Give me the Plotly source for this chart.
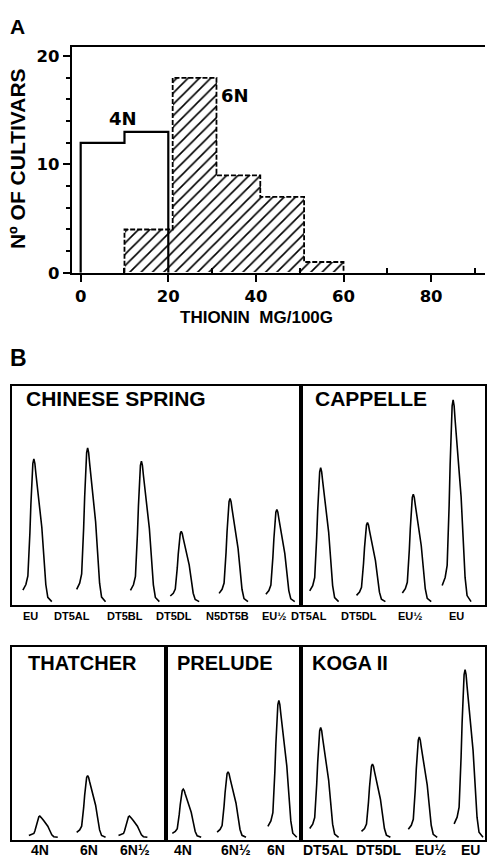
import plotly.graph_objects as go

W, H = 487, 867

# ---------------- Panel A data ----------------
n4_edges = [0, 10, 20]
n4_counts = [12, 13]
n6_edges = [10, 21, 31, 41, 51, 60]
n6_counts = [4, 18, 9, 7, 1]
a_xticks = [0, 20, 40, 60, 80]
a_xminor = [10, 30, 50, 70, 90]
a_yticks = [0, 10, 20]

# ---------------- Panel B data (elution position, peak height % of box) ----------------
cs_pos = [34, 88, 142, 182, 231, 278]
cs_h = [65, 70, 64, 32, 47, 42]
cs_labels = ["EU", "DT5AL", "DT5BL", "DT5DL", "N5DT5B", "EU½"]
cs_label_x = [31, 72, 126, 175, 228, 275]

cap_pos = [322, 369, 415, 455]
cap_h = [61, 36, 49, 92]
cap_labels = ["DT5AL", "DT5DL", "EU½", "EU"]
cap_label_x = [310, 360, 412, 458]

tha_pos = [40, 88, 130]
tha_h = [11, 32, 11]
tha_labels = ["4N", "6N", "6N½"]
tha_label_x = [40, 89, 136]

pre_pos = [184, 229, 280]
pre_h = [25, 34, 71]
pre_labels = ["4N", "6N½", "6N"]
pre_label_x = [184, 237, 277]

kog_pos = [322, 374, 421, 467]
kog_h = [57, 38, 52, 87]
kog_labels = ["DT5AL", "DT5DL", "EU½", "EU"]
kog_label_x = [327, 381, 432, 472]

# peak profile (offset from apex, fraction of height)
peak_dx = [-11, -8, -6, -5, -4, -3, -2, -1, 0, 1, 2, 4, 6, 8, 10, 12, 14, 18]
peak_frac = [0.08, 0.12, 0.18, 0.30, 0.48, 0.68, 0.86, 0.97, 1.0, 0.97, 0.9, 0.78, 0.66, 0.52, 0.32, 0.12, 0.03, 0.0]
baseline = 1.5


def px(x):
    return x / W


def py(y):
    return 1 - y / H


BOLD_ARIAL = dict(family="Liberation Sans", color="black", weight="bold")
BOLD_DV = dict(family="DejaVu Sans", color="black", weight="bold")

fig = go.Figure()

# ---- Panel A ----
centers = [(n6_edges[i] + n6_edges[i + 1]) / 2 for i in range(len(n6_counts))]
widths = [n6_edges[i + 1] - n6_edges[i] for i in range(len(n6_counts))]
fig.add_trace(go.Bar(
    x=centers, y=n6_counts, width=widths, xaxis="x", yaxis="y",
    marker=dict(color="white", line=dict(width=0),
                pattern=dict(shape="/", fgcolor="black", fgopacity=1, bgcolor="white",
                             size=8, solidity=0.2)),
    showlegend=False, hoverinfo="skip"))


def step_outline(edges, counts):
    xs = [edges[0]]
    ys = [0]
    for i, c in enumerate(counts):
        xs += [edges[i], edges[i + 1]]
        ys += [c, c]
    xs.append(edges[-1])
    ys.append(0)
    return xs, ys


sx, sy = step_outline(n6_edges, n6_counts)
fig.add_trace(go.Scatter(x=sx, y=sy, mode="lines", xaxis="x", yaxis="y",
                         line=dict(color="black", width=1.8, dash="5px,2px"),
                         showlegend=False, hoverinfo="skip"))
sx, sy = step_outline(n4_edges, n4_counts)
fig.add_trace(go.Scatter(x=sx, y=sy, mode="lines", xaxis="x", yaxis="y",
                         line=dict(color="black", width=2.2),
                         showlegend=False, hoverinfo="skip"))

# ---- Panel B ----
panels = [
    ("2", (12, 302), (390, 612), cs_pos, cs_h),
    ("3", (302, 487), (390, 612), cap_pos, cap_h),
    ("4", (12, 167), (655, 850), tha_pos, tha_h),
    ("5", (167, 302), (655, 850), pre_pos, pre_h),
    ("6", (302, 487), (655, 850), kog_pos, kog_h),
]

layout_axes = {}
for suf, (x0, x1), (y0, y1), pos, hts in panels:
    xs, ys = [], []
    for p, h in zip(pos, hts):
        for dx, f in zip(peak_dx, peak_frac):
            xs.append(p + dx)
            ys.append(baseline + h * f)
        xs.append(None)
        ys.append(None)
    fig.add_trace(go.Scatter(x=xs, y=ys, mode="lines", xaxis="x" + suf, yaxis="y" + suf,
                             line=dict(color="black", width=1.6),
                             showlegend=False, hoverinfo="skip"))
    layout_axes["xaxis" + suf] = dict(domain=[px(x0), min(1.0, px(x1))], range=[x0, x1],
                                      anchor="y" + suf, showline=True, mirror=True,
                                      linecolor="black", linewidth=2.4, showgrid=False,
                                      zeroline=False, showticklabels=False, ticks="")
    layout_axes["yaxis" + suf] = dict(domain=[py(y1), py(y0)], range=[0, 100],
                                      anchor="x" + suf, showline=True, mirror=True,
                                      linecolor="black", linewidth=2.4, showgrid=False,
                                      zeroline=False, showticklabels=False, ticks="")

annotations = []


def ann(text, x, y, size, font=BOLD_ARIAL, xanchor="center", yanchor="middle", angle=0):
    annotations.append(dict(text=text, x=px(x), y=py(y), xref="paper", yref="paper",
                            showarrow=False, xanchor=xanchor, yanchor=yanchor,
                            textangle=angle, font=dict(font, size=size)))


ann("A", 8, 27, 21, xanchor="left")
ann("B", 8, 362, 23, xanchor="left")
ann("Nº OF CULTIVARS", 17, 160, 21, angle=-90)
ann("THIONIN  MG/100G", 258, 321, 17)
ann("4N", 124, 120, 18, font=BOLD_DV)
ann("6N", 236, 97, 18, font=BOLD_DV)

ann("CHINESE SPRING", 24, 403, 21, xanchor="left")
ann("CAPPELLE", 314, 403, 21, xanchor="left")
ann("THATCHER", 26, 671, 20, xanchor="left")
ann("PRELUDE", 176, 671, 20, xanchor="left")
ann("KOGA II", 311, 671, 20, xanchor="left")

for lab, x in zip(cs_labels + cap_labels, cs_label_x + cap_label_x):
    ann(lab, x, 623, 11)
for lab, x in zip(tha_labels + pre_labels + kog_labels, tha_label_x + pre_label_x + kog_label_x):
    ann(lab, x, 860, 14)

fig.update_layout(
    width=W, height=H, margin=dict(l=0, r=0, t=0, b=0),
    paper_bgcolor="white", plot_bgcolor="white",
    barmode="overlay", bargap=0, showlegend=False,
    xaxis=dict(domain=[px(72), 1.0], range=[-2.05, 92.3], anchor="y",
               showline=True, mirror=True, linecolor="black", linewidth=2,
               showgrid=False, zeroline=False,
               tickvals=a_xticks, ticks="outside", ticklen=7, tickwidth=2, tickcolor="black",
               tickfont=dict(BOLD_DV, size=16.5),
               minor=dict(tickvals=a_xminor, ticks="inside", ticklen=5, tickwidth=1.5, tickcolor="black")),
    yaxis=dict(domain=[py(276), py(48)], range=[0, 20.8], anchor="x",
               showline=True, mirror=False, linecolor="black", linewidth=2,
               showgrid=False, zeroline=False,
               tickvals=a_yticks, ticks="outside", ticklen=7, tickwidth=2, tickcolor="black",
               tickfont=dict(BOLD_DV, size=16.5),
               minor=dict(dtick=2, ticks="outside", ticklen=4, tickwidth=1.5, tickcolor="black")),
    annotations=annotations,
    **layout_axes,
)

fig.write_html("out.html", config={"displayModeBar": False},
               post_script="document.body.style.margin='0';document.body.style.overflow='hidden';")
